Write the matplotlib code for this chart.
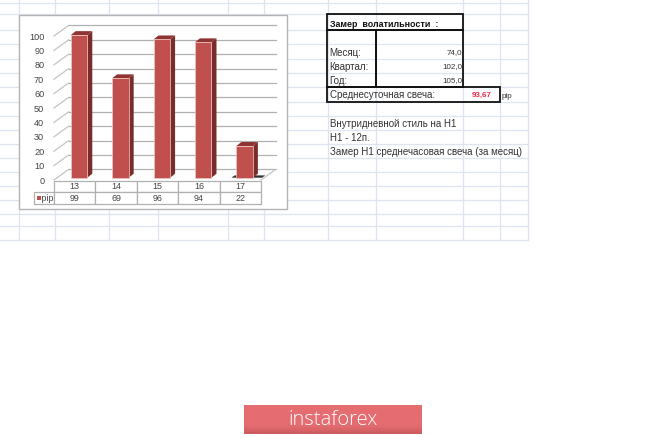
import matplotlib
matplotlib.use("Agg")
import matplotlib.pyplot as plt
import numpy as np
from matplotlib.patches import Rectangle

plt.rcParams["font.family"] = ["Liberation Sans", "DejaVu Sans"]

W, H = 665, 436

# chart data
days = ["13", "14", "15", "16", "17"]
pips = [99, 69, 96, 94, 22]
ticks = list(range(0, 101, 10))
series_name = "pip"

# sheet data
sheet_title = "Замер  волатильности  :"
period_names = ["Месяц:", "Квартал:", "Год:"]
period_values = ["74,0", "102,0", "105,0"]
avg_name = "Среднесуточная свеча:"
avg_value = "93,67"
notes = ["Внутридневной стиль на H1", "H1 - 12п.", "Замер H1 среднечасовая свеча (за месяц)"]

# spreadsheet grid, pixels
grid_x = [19, 55, 109, 158, 228, 264, 328, 376, 463, 500, 528]
grid_y = [3, 14, 30, 44, 59, 73, 87, 102, 116, 130, 144, 158, 172, 186, 200, 214, 226, 240]

fig = plt.figure(figsize=(W / 100, H / 100), dpi=100, facecolor="white")

# background layer in pixel coords
bg = fig.add_axes([0, 0, 1, 1])
bg.set_xlim(0, W)
bg.set_ylim(H, 0)
bg.axis("off")
for x in grid_x:
    bg.plot([x, x], [0, 240], color="#dde3f0", lw=0.9, zorder=1)
for y in grid_y:
    bg.plot([0, 528], [y, y], color="#dde3f0", lw=0.9, zorder=1)

# chart frame
bg.add_patch(Rectangle((19, 15), 268, 194, fc="white", ec="#b4b4b4", lw=1.0, zorder=2))

# boxes of the sheet table
for x0, y0, w, h in [(327, 14, 136, 16), (327, 30, 49, 57), (376, 30, 87, 57), (327, 87, 173, 15)]:
    bg.add_patch(Rectangle((x0, y0), w, h, fc="none", ec="#111111", lw=1.3, zorder=3))

bg.text(329.5, 24.5, sheet_title, fontsize=6.4, fontweight="bold", va="center", color="#111111", zorder=4)
for i, name in enumerate(period_names):
    y = 53 + i * 14
    bg.text(329.5, y, name, fontsize=7.0, va="center", color="#333333", zorder=4)
    bg.text(462, y, period_values[i], fontsize=5.8, ha="right", va="center", color="#333333", zorder=4)
bg.text(329.5, 95, avg_name, fontsize=7.0, va="center", color="#333333", zorder=4)
bg.text(491.5, 95.5, avg_value, fontsize=5.8, fontweight="bold", ha="right", va="center", color="#f0304a", zorder=4)
bg.text(502, 96, series_name, fontsize=5.8, va="center", color="#333333", zorder=4)
for i, line in enumerate(notes):
    bg.text(329.5, 124 + i * 14, line, fontsize=7.0, va="center", color="#333333", zorder=4)

# banner with a soft darker lower edge
grad = np.array([[0.0], [0.0], [0.0], [0.0], [0.0], [0.0], [0.0], [0.15], [0.5], [1.0]])
cmap = matplotlib.colors.LinearSegmentedColormap.from_list("b", ["#e56d71", "#cc5c60"])
bg.imshow(grad, extent=(244, 422, 434, 405), cmap=cmap, aspect="auto", interpolation="bilinear", zorder=2)
bg.set_xlim(0, W)
bg.set_ylim(H, 0)
bg.text(333, 420, "instaforex", fontsize=14.5, color="white", ha="center", va="center",
        family="Open Sans", fontweight="light", zorder=4)

# chart axes = front plane of the fake 3d box
left, right, top, bottom = 54, 261, 36, 180
ax = fig.add_axes([left / W, 1 - bottom / H, (right - left) / W, (bottom - top) / H])
ax.set_xlim(-0.5, 4.5)
ax.set_ylim(0, 100)
ax.patch.set_alpha(0)
for s in ax.spines.values():
    s.set_visible(False)
ax.set_xticks([])
ax.set_yticks(ticks)
ax.tick_params(axis="y", length=0, pad=7, labelsize=6.6, labelcolor="#444444")

px_x = (right - left) / 5
px_y = (bottom - top) / 100

# walls: gridlines run along the back, and slant down the left wall
depth_x, depth_y = 14.5 / px_x, 10.5 / px_y
for t in ticks:
    ax.plot([-0.5, -0.5 + depth_x], [t, t + depth_y], color="#c4c4c4", lw=0.9, clip_on=False, zorder=1)
    ax.plot([-0.5 + depth_x, 4.5 + depth_x], [t + depth_y, t + depth_y], color="#b0b0b0", lw=0.9,
            clip_on=False, zorder=1)
ax.plot([4.5, 4.5 + depth_x], [0, depth_y], color="#c4c4c4", lw=0.9, clip_on=False, zorder=1)

# bars: front, side and top faces
off_x, off_y = 4.3 / px_x, 2.3 / px_y
bar_w = 0.4
side_x, side_y = 5 / px_x, 4 / px_y
x_pos = np.arange(len(days))
for x, v in zip(x_pos, pips):
    l, r = x - bar_w / 2 + off_x, x + bar_w / 2 + off_x
    ax.fill([r, r + side_x, r + side_x, r], [off_y, off_y + side_y, v + off_y + side_y, v + off_y],
            color="#7a2c2a", lw=0, clip_on=False, zorder=3)
    ax.fill([l, r, r + side_x, l + side_x], [v + off_y, v + off_y, v + off_y + side_y, v + off_y + side_y],
            color="#8f3432", lw=0, clip_on=False, zorder=3)
ax.bar(x_pos + off_x, pips, bottom=off_y, width=bar_w, color="#c0504d", edgecolor="#f0c8c8", lw=0.5,
       clip_on=False, zorder=4)

# dark smudge on the floor round the last bar
last = x_pos[-1] + off_x
ax.fill([last - 0.32, last + 0.42, last + 0.5, last - 0.24], [off_y, off_y, off_y + 1.6, off_y + 1.6],
        color="#333333", lw=0, clip_on=False, zorder=2)

# data table under the plot, first column holds the series name
lab_w = (left - 34) / (right - left)
rows = [[""] + days, ["   " + series_name] + [str(v) for v in pips]]
tab = ax.table(cellText=rows, colWidths=[lab_w] + [0.2] * 5, cellLoc="center",
               bbox=[-lab_w, -24.5 / (bottom - top), 1 + lab_w, 24 / (bottom - top)])
tab.auto_set_font_size(False)
for (r, c), cell in tab.get_celld().items():
    cell.set_fontsize(6.4)
    cell.set_edgecolor("#b0b0b0")
    cell.set_linewidth(0.9)
    cell.set_facecolor("white")
    cell.get_text().set_color("#444444")
tab[(0, 0)].visible_edges = ""

# small legend key in the table
fig.add_artist(Rectangle((37 / W, 1 - 200 / H), 4 / W, 3.6 / H, transform=fig.transFigure,
                         fc="#c0504d", ec="none", zorder=6))

fig.savefig("out.png", dpi=100)
